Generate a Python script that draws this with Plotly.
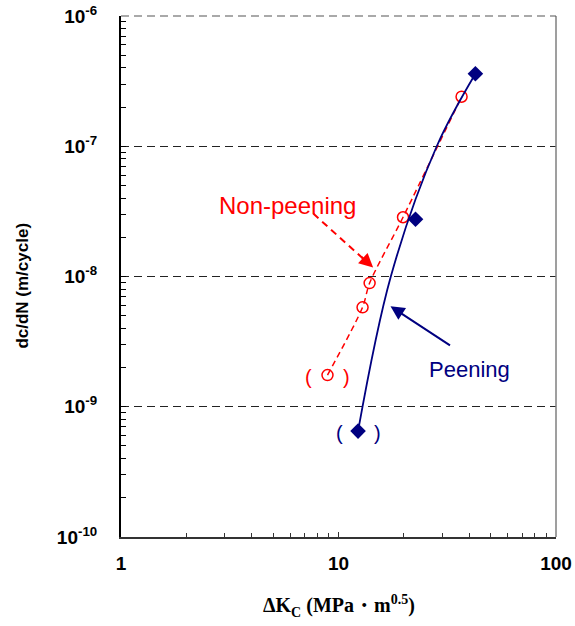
import math
import plotly.graph_objects as go

# Crack growth rate vs. stress intensity range
peen_dk = [12.3, 22.6, 42.6]
peen_rate = [6.5e-10, 2.75e-8, 3.6e-7]

nonpeen_dk = [8.9, 12.9, 13.9, 19.8, 36.8]
nonpeen_rate = [1.75e-9, 5.8e-9, 8.9e-9, 2.85e-8, 2.4e-7]

# fitted curve for the peened specimens
fit_dk = [12.3, 17.4, 28.3, 42.6]
fit_rate = [6.5e-10, 1.0e-8, 1.0e-7, 3.6e-7]

x_ticks = [1, 10, 100]
x_ticktext = ["1", "10", "100"]
y_ticks = [1e-10, 1e-9, 1e-8, 1e-7, 1e-6]
y_ticktext = ["10<sup>-10</sup>", "10<sup>-9</sup>", "10<sup>-8</sup>",
              "10<sup>-7</sup>", "10<sup>-6</sup>"]

NAVY = "#000080"
RED = "#FF0000"

minor_x = [k * 10 ** e for e in range(0, 2) for k in range(2, 10)]
minor_y = [k * 10.0 ** e for e in range(-10, -6) for k in range(2, 10)]

fig = go.Figure()

fig.add_trace(go.Scatter(
    x=nonpeen_dk, y=nonpeen_rate, mode="lines+markers",
    line=dict(color=RED, width=1.5, dash="6px,4px", shape="spline", smoothing=0.8),
    marker=dict(symbol="circle-open", size=11, color=RED, line=dict(width=1.5)),
    showlegend=False,
))
fig.add_trace(go.Scatter(
    x=fit_dk, y=fit_rate, mode="lines",
    line=dict(color=NAVY, width=1.8, shape="spline", smoothing=1.0),
    showlegend=False,
))
fig.add_trace(go.Scatter(
    x=peen_dk, y=peen_rate, mode="markers",
    marker=dict(symbol="diamond", size=12, color=NAVY),
    showlegend=False,
))

ann = []
# brackets around the first point of each series
for xv, yv, col in [(nonpeen_dk[0], nonpeen_rate[0], RED), (peen_dk[0], peen_rate[0], NAVY)]:
    for txt, sh in [("(", -19), (")", 19)]:
        ann.append(dict(x=math.log10(xv), y=math.log10(yv), xref="x", yref="y",
                        text=txt, showarrow=False, xshift=sh, yshift=-2,
                        xanchor="center", yanchor="middle",
                        font=dict(family="Liberation Sans", size=20, color=col)))

# labels
ann.append(dict(x=0.383, y=0.636, xref="paper", yref="paper", text="Non-peening",
                showarrow=False, xanchor="center", yanchor="middle",
                font=dict(family="Liberation Sans", size=24, color=RED)))
ann.append(dict(x=0.802, y=0.322, xref="paper", yref="paper", text="Peening",
                showarrow=False, xanchor="center", yanchor="middle",
                font=dict(family="Liberation Sans", size=22, color=NAVY)))

# arrow heads
red_tip = (1.1592, -7.9317)
red_tail = (0.8839, -7.5171)
ann.append(dict(x=red_tip[0], y=red_tip[1], xref="x", yref="y", text="",
                showarrow=True, arrowhead=2, arrowsize=1.4, arrowwidth=2,
                arrowcolor=RED, ax=-13, ay=-12))
navy_tip = (1.2391, -8.2288)
ann.append(dict(x=navy_tip[0], y=navy_tip[1], xref="x", yref="y", text="",
                showarrow=True, arrowhead=2, arrowsize=1.4, arrowwidth=2,
                arrowcolor=NAVY, ax=61, ay=40))

# axis titles
ann.append(dict(x=0.5, y=-0.133, xref="paper", yref="paper",
                text="ΔK<sub>C</sub> (MPa・m<sup>0.5</sup>)", showarrow=False,
                xanchor="center", yanchor="middle",
                font=dict(family="Liberation Serif", size=20, color="black", weight="bold")))
ann.append(dict(x=-0.227, y=0.483, xref="paper", yref="paper",
                text="dc/dN (m/cycle)", showarrow=False, textangle=-90,
                xanchor="center", yanchor="middle",
                font=dict(family="Liberation Sans", size=17, color="black", weight="bold")))

shapes = [
    # dashed shaft of the Non-peening arrow
    dict(type="line", xref="paper", yref="paper",
         x0=red_tail[0] / 2, y0=(red_tail[1] + 10) / 4,
         x1=(red_tip[0] - 0.03) / 2, y1=(red_tip[1] + 0.045 + 10) / 4,
         line=dict(color=RED, width=2, dash="7px,5px")),
    # right frame edge
    dict(type="line", xref="paper", yref="paper", x0=1, x1=1, y0=0, y1=1,
         line=dict(color="#7f7f7f", width=1.5)),
    # top frame edge
    dict(type="line", xref="paper", yref="paper", x0=0, x1=1, y0=1, y1=1,
         line=dict(color="#555555", width=1.2, dash="8px,5px")),
]

fig.update_layout(
    width=575, height=626,
    margin=dict(l=121, r=19, t=16, b=89, autoexpand=False),
    paper_bgcolor="white", plot_bgcolor="white",
    annotations=ann, shapes=shapes,
    xaxis=dict(type="log", range=[0, 2], tickvals=x_ticks, ticktext=x_ticktext,
               automargin=False,
               showgrid=False, zeroline=False, showline=True, linecolor="#333333",
               linewidth=2, ticks="inside", ticklen=5, tickcolor="#333333",
               ticklabelstandoff=8,
               tickfont=dict(family="Liberation Sans", size=19, color="black", weight="bold"),
               minor=dict(tickvals=minor_x, ticks="inside", ticklen=4,
                          tickcolor="#333333", showgrid=False)),
    yaxis=dict(type="log", range=[-10, -6], tickvals=y_ticks, ticktext=y_ticktext,
               automargin=False,
               showgrid=True, gridcolor="#222222", gridwidth=1, griddash="8px,5px",
               zeroline=False, showline=True, linecolor="black", linewidth=2,
               ticks="inside", ticklen=5, tickcolor="black", ticklabelstandoff=18,
               tickfont=dict(family="Liberation Sans", size=19, color="black", weight="bold"),
               minor=dict(tickvals=minor_y, ticks="inside", ticklen=5,
                          tickcolor="black", showgrid=False)),
)

fig.write_html("out.html")
